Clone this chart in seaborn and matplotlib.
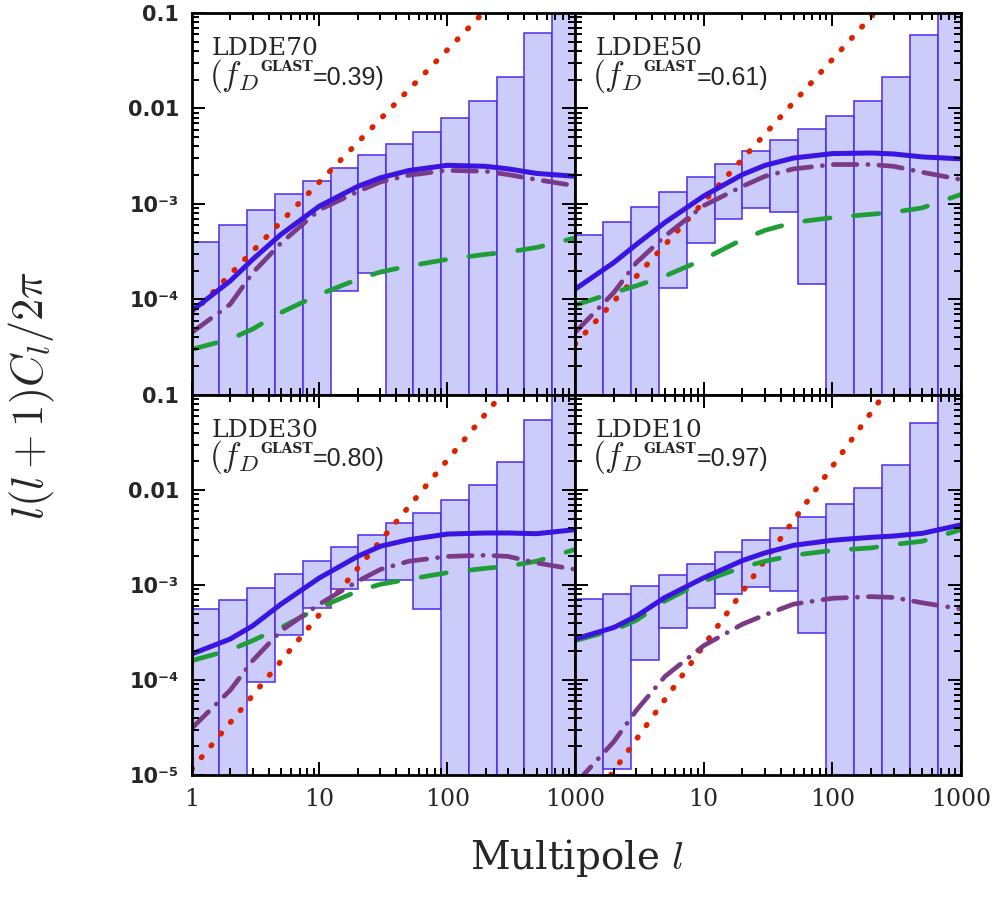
import numpy as np
import pandas as pd
import matplotlib
matplotlib.use("Agg")
import matplotlib.pyplot as plt
import seaborn as sns
from matplotlib.ticker import FixedLocator, FuncFormatter, NullFormatter, LogLocator
from matplotlib.collections import LineCollection

# ---------------- data ----------------
ell = [1, 2, 3, 5, 10, 20, 30, 50, 100, 200, 300, 500, 1000]
ell_dotted = [1, 10, 100, 1000]
bin_edges = [1, 1.65, 2.72, 4.48, 7.38, 12.2, 20.0, 33.0, 54.4, 89.7, 148, 244, 402, 662, 1091]
LOW = 1e-7   # box extends below the plotted range
HIGH = 0.3   # box extends above the plotted range

panel_names = ["LDDE70", "LDDE50", "LDDE30", "LDDE10"]
panel_fD = ["0.39", "0.61", "0.80", "0.97"]

total_70 = [7.6e-5, 1.56e-4, 2.63e-4, 4.8e-4, 9.5e-4, 1.53e-3, 1.88e-3, 2.24e-3, 2.54e-3, 2.48e-3, 2.33e-3, 2.09e-3, 1.95e-3]
dashdot_70 = [4.5e-5, 8.9e-5, 1.9e-4, 3.9e-4, 8.7e-4, 1.35e-3, 1.7e-3, 2.0e-3, 2.25e-3, 2.2e-3, 2.03e-3, 1.8e-3, 1.55e-3]
dashed_70 = [3.0e-5, 3.85e-5, 4.9e-5, 7.3e-5, 1.13e-4, 1.63e-4, 1.94e-4, 2.24e-4, 2.63e-4, 2.97e-4, 3.14e-4, 3.5e-4, 4.4e-4]
dotted_70 = [7.0e-5, 1.7e-3, 4.1e-2, 1.0]
box_top_70 = [4.0e-4, 6.0e-4, 8.7e-4, 1.26e-3, 1.76e-3, 2.39e-3, 3.23e-3, 4.26e-3, 5.67e-3, 7.94e-3, 1.19e-2, 2.16e-2, 6.2e-2, HIGH]
box_low_70 = [LOW, LOW, LOW, LOW, LOW, 1.23e-4, 1.9e-4, LOW, LOW, LOW, LOW, LOW, LOW, LOW]

total_50 = [1.28e-4, 2.43e-4, 3.77e-4, 6.4e-4, 1.21e-3, 2.03e-3, 2.54e-3, 3.03e-3, 3.37e-3, 3.42e-3, 3.34e-3, 3.11e-3, 2.97e-3]
dashdot_50 = [4.5e-5, 1.18e-4, 2.43e-4, 4.6e-4, 9.6e-4, 1.53e-3, 1.95e-3, 2.33e-3, 2.59e-3, 2.59e-3, 2.48e-3, 2.15e-3, 1.8e-3]
dashed_50 = [8.7e-5, 1.18e-4, 1.39e-4, 1.76e-4, 2.63e-4, 4.26e-4, 5.3e-4, 6.4e-4, 7.2e-4, 7.8e-4, 8.2e-4, 9.1e-4, 1.26e-3]
dotted_50 = [3.4e-5, 1.05e-3, 3.26e-2, 1.0]
box_top_50 = [4.69e-4, 6.5e-4, 9.3e-4, 1.34e-3, 1.91e-3, 2.65e-3, 3.56e-3, 4.68e-3, 6.16e-3, 8.26e-3, 1.21e-2, 2.13e-2, 5.94e-2, HIGH]
box_low_50 = [LOW, LOW, LOW, 1.31e-4, 3.9e-4, 6.9e-4, 9.0e-4, 8.3e-4, 1.44e-4, LOW, LOW, LOW, LOW, LOW]

total_30 = [1.88e-4, 2.7e-4, 3.72e-4, 6.3e-4, 1.19e-3, 2.01e-3, 2.56e-3, 3.0e-3, 3.44e-3, 3.53e-3, 3.53e-3, 3.47e-3, 3.83e-3]
dashdot_30 = [3.1e-5, 7.8e-5, 1.6e-4, 3.3e-4, 6.3e-4, 1.1e-3, 1.46e-3, 1.78e-3, 2.0e-3, 2.06e-3, 2.0e-3, 1.71e-3, 1.46e-3]
dashed_30 = [1.6e-4, 2.07e-4, 2.6e-4, 3.57e-4, 5.8e-4, 8.65e-4, 1.02e-3, 1.15e-3, 1.35e-3, 1.5e-3, 1.58e-3, 1.78e-3, 2.37e-3]
dotted_30 = [1.15e-5, 4.9e-4, 2.06e-2, 0.87]
box_top_30 = [5.65e-4, 7.0e-4, 9.4e-4, 1.30e-3, 1.81e-3, 2.54e-3, 3.39e-3, 4.47e-3, 5.8e-3, 7.9e-3, 1.12e-2, 1.97e-2, 5.43e-2, HIGH]
box_low_30 = [LOW, LOW, 9.5e-5, 2.99e-4, 5.8e-4, 9.0e-4, 1.14e-3, 1.12e-3, 5.65e-4, LOW, LOW, LOW, LOW, LOW]

total_10 = [2.7e-4, 3.57e-4, 4.7e-4, 7.4e-4, 1.19e-3, 1.81e-3, 2.18e-3, 2.62e-3, 2.96e-3, 3.18e-3, 3.28e-3, 3.5e-3, 4.3e-3]
dashdot_10 = [8e-6, 2.24e-5, 4.8e-5, 1.09e-4, 2.3e-4, 3.87e-4, 4.85e-4, 6.3e-4, 7.25e-4, 7.55e-4, 7.4e-4, 6.5e-4, 5.6e-4]
dashed_10 = [2.6e-4, 3.35e-4, 4.26e-4, 6.8e-4, 1.1e-3, 1.54e-3, 1.78e-3, 2.06e-3, 2.31e-3, 2.46e-3, 2.67e-3, 2.89e-3, 3.83e-3]
dotted_10 = [3.0e-6, 2.3e-4, 1.77e-2, 1.36]
box_top_10 = [7.1e-4, 8.05e-4, 9.7e-4, 1.26e-3, 1.66e-3, 2.25e-3, 2.99e-3, 3.98e-3, 5.24e-3, 7.1e-3, 1.05e-2, 1.85e-2, 5.1e-2, HIGH]
box_low_10 = [LOW, 1.16e-5, 1.63e-4, 3.5e-4, 5.8e-4, 8.1e-4, 9.5e-4, 8.65e-4, 3.12e-4, LOW, LOW, LOW, LOW, LOW]

x_ticks = [1, 10, 100, 1000]
y_ticks = [1e-5, 1e-4, 1e-3, 1e-2, 1e-1]
y_tick_text = {-1: "0.1", -2: "0.01", -3: "10\u207b\u00b3", -4: "10\u207b\u2074", -5: "10\u207b\u2075"}

panels = [
    dict(total=total_70, dashdot=dashdot_70, dashed=dashed_70, dotted=dotted_70, top=box_top_70, low=box_low_70),
    dict(total=total_50, dashdot=dashdot_50, dashed=dashed_50, dotted=dotted_50, top=box_top_50, low=box_low_50),
    dict(total=total_30, dashdot=dashdot_30, dashed=dashed_30, dotted=dotted_30, top=box_top_30, low=box_low_30),
    dict(total=total_10, dashdot=dashdot_10, dashed=dashed_10, dotted=dotted_10, top=box_top_10, low=box_low_10),
]

# ---------------- styling ----------------
sns.set_theme(style="ticks")
plt.rcParams['font.family'] = ['DejaVu Sans']
plt.rcParams['mathtext.fontset'] = 'cm'
plt.rcParams['axes.axisbelow'] = False

C_BLUE = "#3a14e0"
C_PURPLE = "#7b3a86"
C_GREEN = "#1f9e38"
C_RED = "#dd2200"
C_FILL = "#ccccfa"
C_EDGE = "#4a2cec"

DPI = 100
fig = plt.figure(figsize=(10, 9.09), dpi=DPI)
x0s = [0.1917, 0.575]
widths = [0.3833, 0.386]
y0s = [0.5655, 0.1474]
heights = [0.4202, 0.418]

MAJ_PX, MIN_PX, TICK_LW = 13.0, 7.0, 1.4


def y_label_for(v, skip_lowest):
    e = int(round(np.log10(v)))
    if skip_lowest and e == -5:
        return ""
    return y_tick_text.get(e, "")


def draw_inward_ticks(ax, xlim, ylim):
    """Inward ticks on all four sides, positions taken from the tick locators."""
    fw, fh = fig.get_size_inches() * DPI
    pos = ax.get_position()
    aw, ah = pos.width * fw, pos.height * fh
    minor_loc = LogLocator(base=10, subs=np.arange(2, 10), numticks=50)
    xmaj = [v for v in x_ticks if xlim[0] <= v <= xlim[1]]
    xmin = [v for v in minor_loc.tick_values(*xlim) if xlim[0] < v < xlim[1]]
    ymaj = [v for v in y_ticks if ylim[0] <= v <= ylim[1]]
    ymin = [v for v in minor_loc.tick_values(*ylim) if ylim[0] < v < ylim[1]]
    segs_x = []
    for vals, L in ((xmaj, MAJ_PX), (xmin, MIN_PX)):
        f = L / ah
        for v in vals:
            segs_x.append([(v, 0), (v, f)])
            segs_x.append([(v, 1), (v, 1 - f)])
    segs_y = []
    for vals, L in ((ymaj, MAJ_PX), (ymin, MIN_PX)):
        f = L / aw
        for v in vals:
            segs_y.append([(0, v), (f, v)])
            segs_y.append([(1, v), (1 - f, v)])
    ax.add_collection(LineCollection(segs_x, transform=ax.get_xaxis_transform(),
                                     colors='black', linewidths=TICK_LW, zorder=9,
                                     clip_on=False, capstyle='butt'))
    ax.add_collection(LineCollection(segs_y, transform=ax.get_yaxis_transform(),
                                     colors='black', linewidths=TICK_LW, zorder=9,
                                     clip_on=False, capstyle='butt'))


edges = np.array(bin_edges)
for i, p in enumerate(panels):
    r, c = divmod(i, 2)
    ax = fig.add_axes([x0s[c], y0s[r], widths[c], heights[r]])
    ax.set_axisbelow(False)
    ax.set_xscale('log')
    ax.set_yscale('log')

    top = np.array(p['top'])
    low = np.array(p['low'])
    ax.bar(edges[:-1], top - low, width=np.diff(edges), bottom=low, align='edge',
           color=C_FILL, edgecolor=C_EDGE, linewidth=1.1, zorder=1)

    df = pd.DataFrame({'ell': ell, 'total': p['total'], 'dashdot': p['dashdot'], 'dashed': p['dashed']})
    dfd = pd.DataFrame({'ell': ell_dotted, 'dotted': p['dotted']})
    sns.lineplot(data=dfd, x='ell', y='dotted', ax=ax, color=C_RED, lw=4.0,
                 linestyle=(0, (0.15, 2.6)), dash_capstyle='round', zorder=3)
    sns.lineplot(data=df, x='ell', y='dashed', ax=ax, color=C_GREEN, lw=3.4,
                 linestyle=(0, (5.4, 5.0)), dash_capstyle='round', zorder=4)
    sns.lineplot(data=df, x='ell', y='dashdot', ax=ax, color=C_PURPLE, lw=3.4,
                 linestyle=(0, (5.0, 2.3, 0.05, 2.3)), dash_capstyle='round', zorder=5)
    sns.lineplot(data=df, x='ell', y='total', ax=ax, color=C_BLUE, lw=3.6, zorder=6)

    xlim = (1, 1000)
    ylim = (1e-5, 0.1)
    ax.set_xlim(*xlim)
    ax.set_ylim(*ylim)
    ax.set_xlabel("")
    ax.set_ylabel("")

    ax.xaxis.set_major_locator(FixedLocator(x_ticks))
    ax.yaxis.set_major_locator(FixedLocator(y_ticks))
    ax.xaxis.set_minor_locator(LogLocator(base=10, subs=np.arange(2, 10), numticks=50))
    ax.yaxis.set_minor_locator(LogLocator(base=10, subs=np.arange(2, 10), numticks=50))
    ax.tick_params(which='both', direction='in', top=True, right=True,
                   bottom=True, left=True, color='black', width=TICK_LW)
    ax.tick_params(which='major', length=MAJ_PX * 72 / DPI)
    ax.tick_params(which='minor', length=MIN_PX * 72 / DPI)
    ax.tick_params(axis='x', which='major', labelsize=17, pad=9,
                   labelfontfamily='DejaVu Serif')
    ax.tick_params(axis='y', which='major', labelsize=15, pad=9)
    ax.xaxis.set_minor_formatter(NullFormatter())
    ax.yaxis.set_minor_formatter(NullFormatter())

    if r == 1:
        if c == 0:
            ax.xaxis.set_major_formatter(FuncFormatter(lambda v, pos: f"{v:g}"))
        else:
            ax.xaxis.set_major_formatter(FuncFormatter(lambda v, pos: "" if v < 5 else f"{v:g}"))
    else:
        ax.xaxis.set_major_formatter(NullFormatter())
    if c == 0:
        skip = (r == 0)
        ax.yaxis.set_major_formatter(FuncFormatter(lambda v, pos, s=skip: y_label_for(v, s)))
        for lab in ax.get_yticklabels():
            lab.set_fontweight('bold')
    else:
        ax.yaxis.set_major_formatter(NullFormatter())

    for s in ax.spines.values():
        s.set_linewidth(2.0)
        s.set_color('black')
        s.set_zorder(10)

    draw_inward_ticks(ax, xlim, ylim)

    ax.text(0.053, 0.89, panel_names[i], transform=ax.transAxes, fontsize=18,
            family='DejaVu Serif', va='baseline', ha='left')
    ax.text(0.045, 0.812, r"$(f_{D}$", transform=ax.transAxes, fontsize=24,
            va='baseline', ha='left')
    ax.text(0.178, 0.848, "GLAST", transform=ax.transAxes, fontsize=10,
            fontweight='bold', family='DejaVu Serif', va='baseline', ha='left')
    ax.text(0.316, 0.812, "=" + panel_fD[i] + ")", transform=ax.transAxes,
            fontsize=18, family='Liberation Sans', va='baseline', ha='left')

fig.text(0.032, 0.565, r"$l(l+1)C_l/2\pi$", rotation=90, fontsize=32,
         ha='center', va='center')
fig.text(0.577, 0.056, r"Multipole $l$", fontsize=28, family='DejaVu Serif',
         ha='center', va='center')

fig.canvas.draw()
fig.savefig("out.png", dpi=DPI)
